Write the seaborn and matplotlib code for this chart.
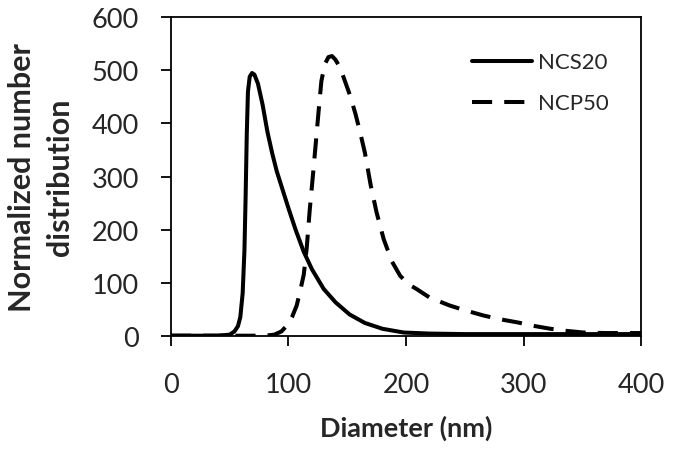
import pandas as pd
import seaborn as sns
import matplotlib.pyplot as plt
import matplotlib

matplotlib.use('Agg')

# NCS20 size distribution
ncs20_x = [0, 20, 40, 50, 54, 57, 59, 61, 62.5, 63.5, 64.5, 65.5, 67, 69, 71, 74, 78, 82, 86, 90,
           95, 100, 106, 113, 120, 130, 140, 152, 165, 180, 198, 220, 250, 300, 350, 400]
ncs20_y = [0, 0, 0, 2, 8, 18, 35, 80, 160, 260, 380, 460, 488, 495, 492, 475, 435, 385, 345, 310,
           275, 240, 200, 158, 125, 88, 63, 40, 24, 13, 6, 4, 3, 3, 3, 3]

# NCP50 size distribution
ncp50_x = [0, 50, 80, 88, 94, 99, 103, 107, 110, 113, 115.5, 118, 120.5, 123, 125.5, 128, 131, 134,
           137, 140, 144, 148, 152.5, 157, 161, 165, 170, 175, 181, 188, 195, 202, 209, 220, 237,
           250, 266, 280, 295, 310, 323, 337, 351, 370, 400]
ncp50_y = [0, 0, 0, 2, 8, 20, 35, 57, 85, 115, 165, 235, 295, 357, 420, 480, 512, 525,
           527, 520, 505, 480, 452, 418, 383, 345, 283, 232, 182, 140, 113, 97, 88, 72, 57,
           48, 38, 31, 25, 18, 13, 9, 6, 5, 5]

series_names = ["NCS20", "NCP50"]


def build_df() -> pd.DataFrame:
    a = pd.DataFrame({"d": ncs20_x, "n": ncs20_y, "sample": series_names[0]})
    b = pd.DataFrame({"d": ncp50_x, "n": ncp50_y, "sample": series_names[1]})
    return pd.concat([a, b], ignore_index=True)


def plot_graph(df: pd.DataFrame, fig_location: str = None):
    sns.set_style("ticks")
    plt.rcParams['font.family'] = ['Lato', 'DejaVu Sans']
    fig = plt.figure(figsize=(6.9, 4.52), dpi=100)
    ax = fig.add_axes([0.2478, 0.2551, 0.929 - 0.2478, 0.9595 - 0.2551])

    sns.lineplot(data=df, x="d", y="n", hue="sample", style="sample",
                 palette=["black", "black"], dashes=[(None, None), (5, 3)],
                 linewidth=2.9, sort=False, estimator=None, ax=ax)

    ax.set_xlim(0, 400)
    ax.set_ylim(0, 600)
    ax.set_xticks([0, 100, 200, 300, 400])
    ax.set_yticks(range(0, 601, 100))
    ax.tick_params(direction='out', length=7, width=1.3, labelsize=19.5, color='black')
    ax.tick_params(axis='x', pad=19)
    ax.tick_params(axis='y', pad=16)
    for s in ax.spines.values():
        s.set_visible(True)
        s.set_linewidth(1.3)
        s.set_color('black')

    ax.set_xlabel("Diameter (nm)", fontsize=19.5, fontweight='bold', labelpad=13)
    ax.set_ylabel("Normalized number\ndistribution", fontsize=22, fontweight='bold',
                  linespacing=1.4)
    ax.yaxis.set_label_coords(-0.207, 0.5)

    leg = ax.legend(loc='upper left', frameon=False, fontsize=16, handlelength=2.7,
                    handletextpad=0.3, labelspacing=0.95, borderpad=0, borderaxespad=0,
                    bbox_to_anchor=(0.64, 0.89))
    for line in leg.get_lines():
        line.set_linewidth(2.9)

    if fig_location:
        fig.savefig(fig_location, dpi=100)


if __name__ == "__main__":
    plot_graph(build_df(), fig_location="out.png")
